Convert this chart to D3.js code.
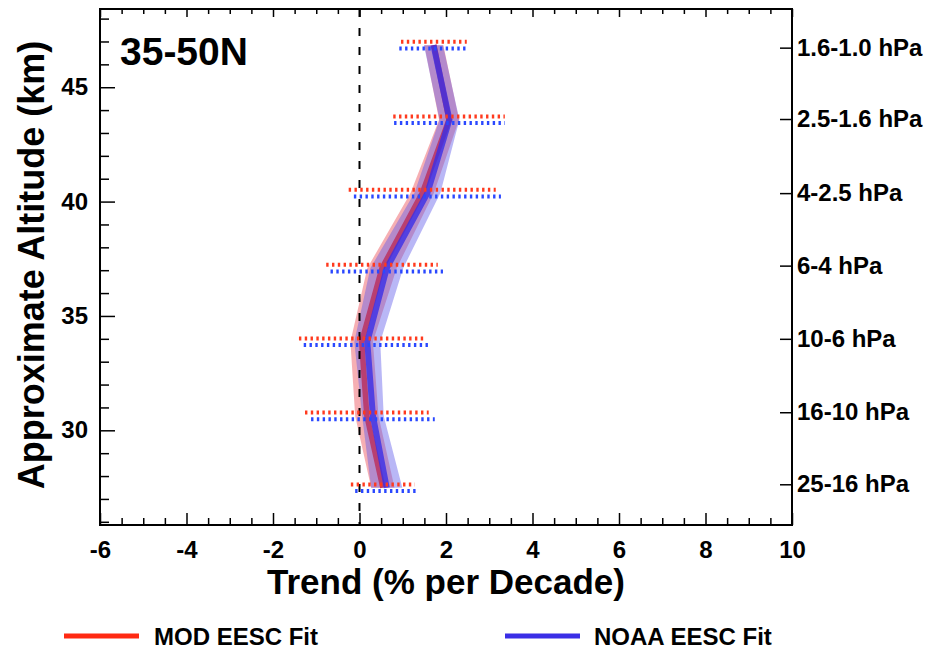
<!DOCTYPE html>
<html><head><meta charset="utf-8">
<script src="https://cdn.jsdelivr.net/npm/d3@7"></script>
<style>
body{margin:0;background:#fff}
svg text{font-family:"Liberation Sans",Arial,Helvetica,sans-serif;font-weight:bold;fill:#000}
</style>
</head><body><svg id="c" width="933" height="652"></svg>
<script>
// ---- data (bottom layer first) ----
const layerLabels = ["25-16 hPa","16-10 hPa","10-6 hPa","6-4 hPa","4-2.5 hPa","2.5-1.6 hPa","1.6-1.0 hPa"];
const layerAlt = [27.64, 30.79, 34.0, 37.2, 40.37, 43.61, 46.73];
const fitAlt   = [27.49, 30.63, 33.87, 37.09, 40.37, 43.58, 46.84];
const modTrend  = [0.54, 0.17, 0.05, 0.52, 1.45, 2.07, 1.72];
const modErr    = [0.74, 1.43, 1.45, 1.29, 1.70, 1.29, 0.76];
const modBand   = [0.27, 0.27, 0.26, 0.34, 0.27, 0.23, 0.22];
const noaaTrend = [0.63, 0.31, 0.18, 0.63, 1.57, 2.08, 1.71];
const noaaErr   = [0.73, 1.43, 1.47, 1.30, 1.70, 1.28, 0.79];
const noaaBand  = [0.36, 0.25, 0.30, 0.38, 0.30, 0.23, 0.22];
const xTicks = [-6,-4,-2,0,2,4,6,8,10];
const yTicks = [30,35,40,45];
const seriesNames = ["MOD EESC Fit","NOAA EESC Fit"];
const panelTitle = "35-50N";
const xTitle = "Trend (% per Decade)";
const yTitle = "Approximate Altitude (km)";

// ---- layout ----
const L = 100, R = 792, T = 9, B = 525;
const svg = d3.select("#c");
const x = d3.scaleLinear([-6, 10], [L, R]);
const y = d3.scaleLinear([25.86, 48.42], [B, T]);

const red = "#ff2a12", blue = "#3a2ee6";
const redBand = "rgb(235,80,90)", blueBand = "rgb(95,90,235)";

const mod = modTrend.map((v,i)=>({v, e:modErr[i], b:modBand[i], a:fitAlt[i]}));
const noaa = noaaTrend.map((v,i)=>({v, e:noaaErr[i], b:noaaBand[i], a:fitAlt[i]}));

const area = d3.area().y(d=>y(d.a)).x0(d=>x(d.v-d.b)).x1(d=>x(d.v+d.b));
const line = d3.line().y(d=>y(d.a)).x(d=>x(d.v));

// bands and lines
svg.append("path").attr("d", area(mod)).attr("fill", redBand).attr("fill-opacity", 0.46);
svg.append("path").attr("d", line(mod)).attr("fill","none").attr("stroke", red).attr("stroke-width", 5.5);
svg.append("path").attr("d", area(noaa)).attr("fill", blueBand).attr("fill-opacity", 0.44);
svg.append("path").attr("d", line(noaa)).attr("fill","none").attr("stroke", blue).attr("stroke-width", 6).attr("stroke-opacity", 0.8);

// zero line
svg.append("line").attr("x1", x(0)).attr("x2", x(0)).attr("y1", T).attr("y2", B)
  .attr("stroke","#000").attr("stroke-width",2).attr("stroke-dasharray","8,11");

// error bars
svg.selectAll(".eb-mod").data(mod).join("line").attr("class","eb-mod")
  .attr("x1", d=>x(d.v-d.e)).attr("x2", d=>x(d.v+d.e))
  .attr("y1", d=>y(d.a)-3.3).attr("y2", d=>y(d.a)-3.3)
  .attr("stroke", "#ff3a1e").attr("stroke-width", 4).attr("stroke-dasharray","2.4,3.4");
svg.selectAll(".eb-noaa").data(noaa).join("line").attr("class","eb-noaa")
  .attr("x1", d=>x(d.v-d.e)).attr("x2", d=>x(d.v+d.e))
  .attr("y1", d=>y(d.a)+3.3).attr("y2", d=>y(d.a)+3.3)
  .attr("stroke", "#2a48ff").attr("stroke-width", 4).attr("stroke-dasharray","2.4,3.4");

// axes
const xMinor = d3.range(-6, 10.001, 0.5).filter(v=>!xTicks.includes(v));
const yMinor = d3.range(26, 48.5, 1).filter(v=>!yTicks.includes(v));
function style(g, fs){
  g.attr("font-family", null).attr("font-size", null);
  g.selectAll("text").style("font-size", fs+"px");
  g.select(".domain").remove();
  g.selectAll("line").attr("stroke","#000").attr("stroke-width",1.5);
}
svg.append("g").attr("transform",`translate(0,${B})`)
  .call(d3.axisBottom(x).tickValues(xTicks).tickFormat(d=>String(d)).tickSize(-12).tickPadding(16))
  .call(g=>style(g,24));
svg.append("g").attr("transform",`translate(0,${B})`)
  .call(d3.axisBottom(x).tickValues(xMinor).tickFormat("").tickSize(-7)).call(g=>style(g,1));
svg.append("g").attr("transform",`translate(0,${T})`)
  .call(d3.axisTop(x).tickValues(xTicks).tickFormat("").tickSize(-8)).call(g=>style(g,1));
svg.append("g").attr("transform",`translate(0,${T})`)
  .call(d3.axisTop(x).tickValues(xMinor).tickFormat("").tickSize(-5)).call(g=>style(g,1));
svg.append("g").attr("transform",`translate(${L},0)`)
  .call(d3.axisLeft(y).tickValues(yTicks).tickFormat(d=>String(d)).tickSize(-15).tickPadding(12))
  .call(g=>style(g,24));
svg.append("g").attr("transform",`translate(${L},0)`)
  .call(d3.axisLeft(y).tickValues(yMinor).tickFormat("").tickSize(-9)).call(g=>style(g,1));
svg.append("g").attr("transform",`translate(${R},0)`)
  .call(d3.axisRight(y).tickValues(layerAlt).tickFormat((d,i)=>layerLabels[i]).tickSize(-12).tickPadding(5))
  .call(g=>style(g,24));

// frame
svg.append("rect").attr("x",L).attr("y",T).attr("width",R-L).attr("height",B-T)
  .attr("fill","none").attr("stroke","#000").attr("stroke-width",2);

// titles
svg.append("text").attr("x",120).attr("y",65).style("font-size","39px").text(panelTitle);
svg.append("text").attr("x",(L+R)/2).attr("y",594).attr("text-anchor","middle").style("font-size","35px").text(xTitle);
svg.append("text").attr("transform",`translate(44,265) rotate(-90)`).attr("text-anchor","middle").style("font-size","36px").text(yTitle);

// legend
const leg = [{name:seriesNames[0], c:red, x0:64, tx:154},{name:seriesNames[1], c:blue, x0:505, tx:594}];
leg.forEach(d=>{
  svg.append("line").attr("x1",d.x0).attr("x2",d.x0+75).attr("y1",636).attr("y2",636).attr("stroke",d.c).attr("stroke-width",5);
  svg.append("text").attr("x",d.tx).attr("y",645).style("font-size","24px").text(d.name);
});
</script>
</body></html>
